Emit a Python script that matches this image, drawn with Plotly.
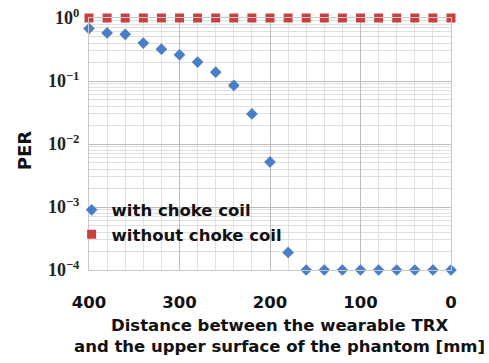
import plotly.graph_objects as go

distance_mm = [400, 380, 360, 340, 320, 300, 280, 260, 240, 220, 200,
               180, 160, 140, 120, 100, 80, 60, 40, 20, 0]
per_with_choke = [0.68, 0.58, 0.55, 0.40, 0.32, 0.26, 0.20, 0.138, 0.085, 0.030, 0.0052,
                  0.00019, 1e-4, 1e-4, 1e-4, 1e-4, 1e-4, 1e-4, 1e-4, 1e-4, 1e-4]
per_without_choke = [1.0] * 21
x_ticks = [400, 300, 200, 100, 0]
y_tickvals = [1e-4, 1e-3, 1e-2, 1e-1, 1]
y_ticktext = ["10<sup>−4</sup>", "10<sup>−3</sup>", "10<sup>−2</sup>", "10<sup>−1</sup>", "10<sup>0</sup>"]

blue = "#4a7ec6"
red = "#c8413e"
sans = "DejaVu Sans"

fig = go.Figure()
fig.add_trace(go.Scatter(x=distance_mm, y=per_with_choke, mode="markers",
                         name="with choke coil",
                         marker=dict(symbol="diamond", size=9, color=blue),
                         cliponaxis=False))
fig.add_trace(go.Scatter(x=distance_mm, y=per_without_choke, mode="markers",
                         name="without choke coil",
                         marker=dict(symbol="square", size=9, color=red),
                         cliponaxis=False))

fig.update_layout(
    width=489, height=363,
    margin=dict(l=89, r=38, t=18, b=93, autoexpand=False),
    plot_bgcolor="white", paper_bgcolor="white",
    showlegend=True,
    legend=dict(x=-0.048, y=0.307, xanchor="left", yanchor="top",
                bgcolor="rgba(0,0,0,0)", tracegroupgap=0, itemwidth=30,
                font=dict(family=sans, size=16.5, color="#111", weight="bold")),
    font=dict(family=sans, color="#111"),
)
fig.update_xaxes(
    range=[400, 0], tickvals=x_ticks, automargin=False,
    tickfont=dict(family=sans, size=16.5, color="#111", weight="bold"),
    ticks="", ticklabelstandoff=17,
    showgrid=True, gridcolor="#bdbdbd", gridwidth=1,
    minor=dict(dtick=20, showgrid=True, gridcolor="#e0e0e0", gridwidth=1),
    zeroline=False, showline=True, linecolor="#c8c8c8", mirror=True,
)
fig.update_yaxes(
    type="log", range=[-4, 0], tickvals=y_tickvals, ticktext=y_ticktext, automargin=False,
    tickfont=dict(family="Liberation Serif", size=18, color="#222", weight="bold"),
    ticks="", ticklabelstandoff=5, ticklabeloverflow="allow",
    showgrid=True, gridcolor="#bdbdbd", gridwidth=1,
    minor=dict(dtick="D1", showgrid=True, gridcolor="#e0e0e0", gridwidth=1),
    zeroline=False, showline=True, linecolor="#c8c8c8", mirror=True,
)
fig.add_annotation(text="PER", xref="paper", yref="paper", x=-0.18, y=0.475,
                   xanchor="center", yanchor="middle",
                   showarrow=False, textangle=-90,
                   font=dict(family=sans, size=18, color="#111", weight="bold"))
fig.add_annotation(text="Distance between the wearable TRX<br>and the upper surface of the phantom [mm]",
                   xref="paper", yref="paper", x=0.525, y=-0.176, yanchor="top",
                   xanchor="center", showarrow=False, align="center",
                   font=dict(family=sans, size=16.5, color="#111", weight="bold"))

fig.write_html("out.html", config={"displayModeBar": False},
               post_script="document.body.style.margin='0';")
